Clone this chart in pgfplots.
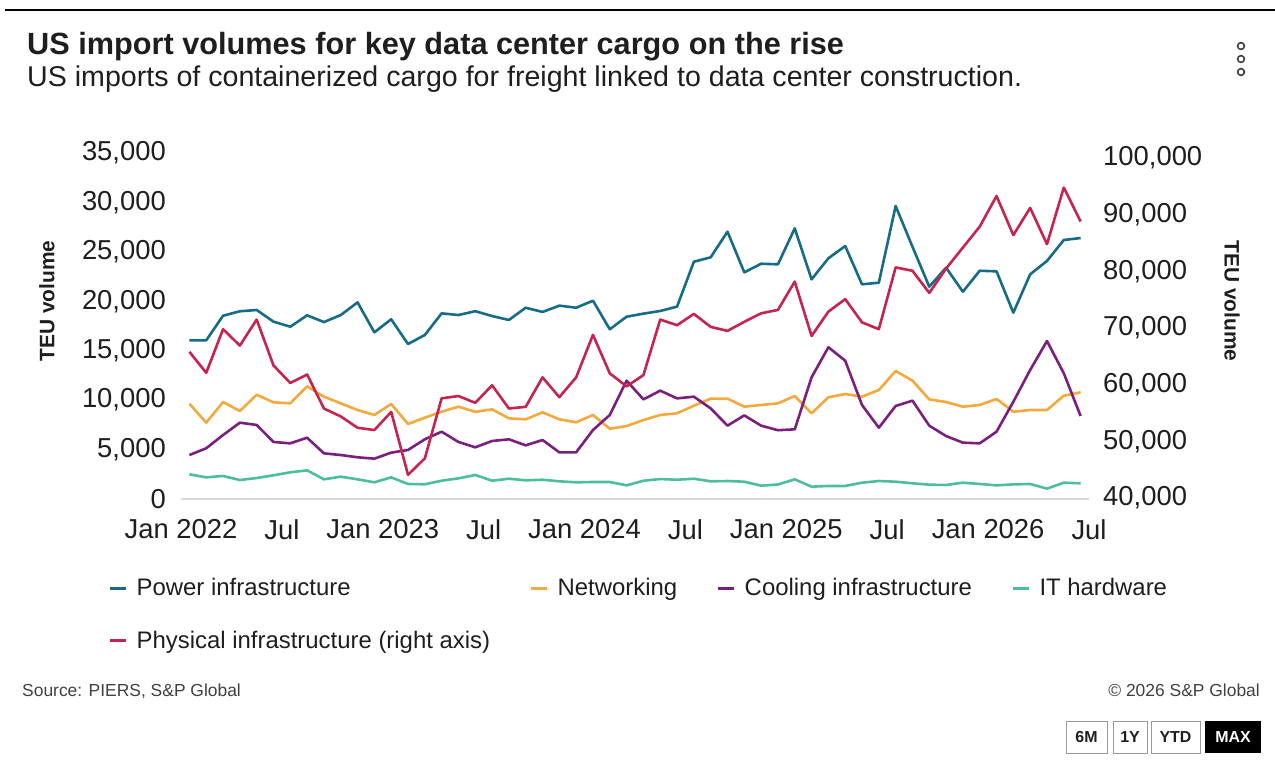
\documentclass[border=0pt]{standalone}
\usepackage{pgfplots}
\usepackage{pgfplotstable}
\usepackage{fontspec}
\setmainfont{Liberation Sans}
\pgfplotsset{compat=1.18}
\definecolor{cPower}{HTML}{166B87}
\definecolor{cNet}{HTML}{F5A93D}
\definecolor{cCool}{HTML}{7B1F7E}
\definecolor{cIT}{HTML}{4CBE9D}
\definecolor{cPhys}{HTML}{C8234E}
\definecolor{txt}{HTML}{1E1E1E}
\pgfplotstableread{
x power net cool it phys
0.5 16050 9640 4450 2500 65800
1.5 16050 7720 5130 2190 62100
2.5 18540 9810 6470 2330 69800
3.5 18990 8900 7720 1920 66900
4.5 19120 10550 7490 2120 71500
5.5 17940 9780 5770 2400 63400
6.5 17430 9680 5630 2700 60300
7.5 18580 11400 6200 2900 61800
8.5 17900 10350 4620 1990 55800
9.5 18610 9680 4450 2260 54400
10.5 19890 9000 4220 1990 52400
11.5 16860 8500 4080 1690 52000
12.5 18180 9610 4690 2190 55200
13.5 15680 7590 4960 1520 44100
14.5 16590 8230 6040 1490 47000
15.5 18780 8830 6810 1850 57600
16.5 18610 9340 5770 2090 58000
17.5 19000 8820 5230 2430 56800
18.5 18510 9070 5870 1850 59900
19.5 18110 8160 6040 2050 55800
20.5 19350 8060 5430 1890 56100
21.5 18920 8770 5970 1950 61300
22.5 19560 8060 4720 1790 57800
23.5 19350 7760 4720 1690 61300
24.5 20060 8500 6980 1720 68800
25.5 17170 7110 8500 1720 62000
26.5 18440 7380 11970 1380 59700
27.5 18750 7990 10080 1850 61700
28.5 19020 8500 10960 2020 71500
29.5 19460 8670 10180 1950 70500
30.5 24000 9440 10350 2050 72500
31.5 24450 10150 9170 1790 70200
32.5 27040 10150 7420 1820 69500
33.5 22930 9340 8460 1750 71100
34.5 23800 9510 7420 1350 72600
35.5 23740 9680 6960 1470 73200
36.5 27380 10420 7050 1990 78200
37.5 22220 8670 12310 1250 68600
38.5 24350 10290 15350 1320 72900
39.5 25590 10620 13990 1320 75100
40.5 21720 10350 9510 1650 71000
41.5 21880 11030 7210 1820 69800
42.5 29640 12950 9410 1750 80700
43.5 25520 11970 9950 1590 80100
44.5 21480 10080 7420 1450 76200
45.5 23400 9810 6370 1420 80500
46.5 20970 9340 5700 1650 84200
47.5 23090 9510 5630 1520 87900
48.5 23030 10120 6810 1380 93300
49.5 18850 8830 9840 1480 86400
50.5 22730 9000 13050 1520 91200
51.5 24080 9000 15980 1050 84800
52.5 26200 10450 12720 1650 94800
53.5 26400 10790 8400 1590 88800
}\datatable
\begin{document}
\begin{tikzpicture}[x=1bp,y=1bp]
\path (0,0) rectangle (1275,-768);
% top rule
\draw[black, line width=1.2bp] (5,-10) -- (1275,-10);
% title and subtitle
\node[anchor=base west, inner sep=0pt, text=txt, font=\fontsize{30.8}{30.8}\selectfont\bfseries] at (27,-55) {US import volumes for key data center cargo on the rise};
\node[anchor=base west, inner sep=0pt, text=txt, font=\fontsize{28.7}{28.7}\selectfont] at (27,-87) {US imports of containerized cargo for freight linked to data center construction.};
% kebab
\foreach \yy in {-46,-59,-72} \draw[black!75, line width=1.6bp] (1241,\yy) circle (3.4);
% axis labels
\node[rotate=90, inner sep=0pt, text=txt, font=\fontsize{21}{21}\selectfont\bfseries] at (47,-301) {TEU volume};
\node[rotate=-90, inner sep=0pt, text=txt, font=\fontsize{21}{21}\selectfont\bfseries] at (1232,-301) {TEU volume};
\pgfplotsset{
  base/.style={
    at={(181bp,-499bp)}, anchor=south west,
    scale only axis, width=908bp, height=346bp,
    xmin=0, xmax=54,
    major tick length=0pt,
    ticklabel style={font=\fontsize{27.5}{27.5}\selectfont, text=txt},
    /pgf/number format/fixed,
    /pgf/number format/precision=0,
    /pgf/number format/assume math mode=true,
    /pgf/number format/1000 sep={,},
    scaled y ticks=false,
    clip=false,
  }
}
\begin{axis}[base,
  ymin=0, ymax=35000,
  ytick={0,5000,...,35000},
  xtick={0,6,...,54},
  xticklabels={Jan 2022,Jul,Jan 2023,Jul,Jan 2024,Jul,Jan 2025,Jul,Jan 2026,Jul},
  axis x line*=bottom,
  x axis line style={draw=black!15, line width=1.5bp},
  axis y line*=left,
  y axis line style={draw=none},
  yticklabel style={anchor=east, inner sep=0pt, xshift=-15bp},
  xticklabel style={anchor=north, inner sep=0pt, yshift=-20bp},
  legend columns=4,
  legend cell align=left,
  legend image code/.code={\draw[#1, line width=3bp] (0bp,0bp) -- (16bp,0bp); \path[draw=none] (0bp,0bp) -- (24bp,0bp);},
  legend style={at={(axis description cs:-0.0837,-0.215)}, anchor=north west, draw=none, fill=none,
    font=\fontsize{24}{24}\selectfont, text=txt,
    nodes={inner sep=3bp},
    row sep=28bp,
    /tikz/every even column/.append style={column sep=36bp}},
]
\addplot[cPower, line width=2.6bp, line join=round] table[x=x, y=power] {\datatable};
\addlegendentry{Power infrastructure}
\addplot[cNet, line width=2.6bp, line join=round] table[x=x, y=net] {\datatable};
\addlegendentry{Networking}
\addplot[cCool, line width=2.6bp, line join=round] table[x=x, y=cool] {\datatable};
\addlegendentry{Cooling infrastructure}
\addplot[cIT, line width=2.6bp, line join=round] table[x=x, y=it] {\datatable};
\addlegendentry{IT hardware}
\addlegendimage{cPhys, line width=2.6bp}
\addlegendentry{Physical infrastructure (right axis)}
\end{axis}
\begin{axis}[base,
  ymin=39830, ymax=100890,
  ytick={40000,50000,...,100000},
  axis x line=none,
  axis y line*=right,
  y axis line style={draw=none},
  yticklabel style={anchor=west, inner sep=0pt, xshift=14bp},
]
\addplot[cPhys, line width=2.6bp, line join=round] table[x=x, y=phys] {\datatable};
\end{axis}
% footer
\node[anchor=base west, inner sep=0pt, text=txt!85, font=\fontsize{17.5}{17.5}\selectfont] at (22,-696) {Source: PIERS, S\&P Global};
\node[anchor=base east, inner sep=0pt, text=txt!85, font=\fontsize{17.5}{17.5}\selectfont] at (1260,-696) {\textcopyright{} 2026 S\&P Global};
% buttons
\draw[black!40, line width=1bp] (1066,-721) rectangle (1107,-753);
\draw[black!40, line width=1bp] (1113,-721) rectangle (1147,-753);
\draw[black!40, line width=1bp] (1151,-721) rectangle (1200,-753);
\fill[black] (1205,-721) rectangle (1261,-753);
\node[font=\fontsize{16}{16}\selectfont\bfseries, text=txt] at (1086.5,-737) {6M};
\node[font=\fontsize{16}{16}\selectfont\bfseries, text=txt] at (1130,-737) {1Y};
\node[font=\fontsize{16}{16}\selectfont\bfseries, text=txt] at (1175.5,-737) {YTD};
\node[font=\fontsize{16}{16}\selectfont\bfseries, text=white] at (1233,-737) {MAX};
\pgfresetboundingbox
\path (0,0) rectangle (1275,-768);
\end{tikzpicture}
\end{document}
